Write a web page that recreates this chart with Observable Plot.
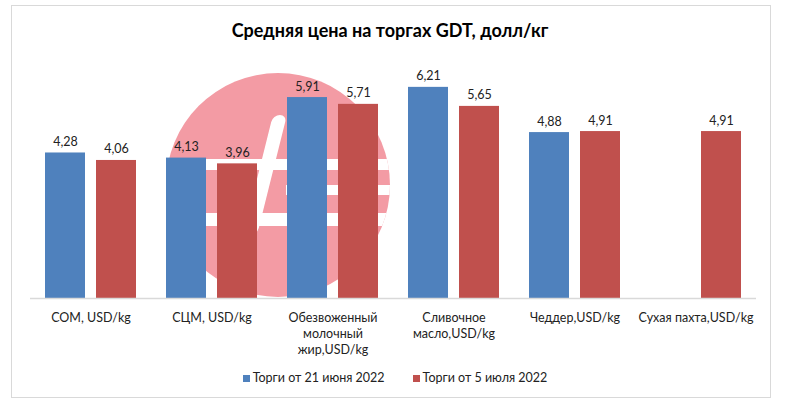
<!DOCTYPE html>
<html>
<head>
<meta charset="utf-8">
<script src="https://cdn.jsdelivr.net/npm/d3@7"></script>
<script src="https://cdn.jsdelivr.net/npm/@observablehq/plot@0.6"></script>
<style>
  body { margin: 0; background: #fff; font-family: Lato, "Open Sans", sans-serif; }
  #page { position: relative; width: 788px; height: 414px; overflow: hidden; }
  #frame { position: absolute; left: 11px; top: 5px; width: 758px; height: 391px; border: 1px solid #d9d9d9; }
  #title { position: absolute; left: 0; top: 19px; width: 780px; text-align: center;
           font: bold 18px/22px Lato, sans-serif; color: #000; }
  #legend { position: absolute; left: 0; top: 370px; width: 790px; text-align: center;
            font: 12.5px/16px Lato, sans-serif; color: #222; }
  #legend span.sw { display: inline-block; width: 7px; height: 7px; margin-right: 3px; vertical-align: 0px; }
  #legend span.item { margin: 0 14px; }
  #logo { position: absolute; left: 166px; top: 73px; width: 224px; height: 224px; border-radius: 50%;
          background: #f39ba4; overflow: hidden; }
  #logo div { position: absolute; background: #fff; }
  #chart { position: absolute; left: 0; top: 0; }
</style>
</head>
<body>
<div id="page">
  <div id="frame"></div>
  <div id="logo">
    <div style="left:92px; top:42px; width:14px; height:120px; transform: skewX(-14deg); border-radius: 7px;"></div>
    <div style="left:38px; top:86px; width:190px; height:11px;"></div>
    <div style="left:120px; top:112px; width:110px; height:10px;"></div>
    <div style="left:40px; top:140px; width:190px; height:13px;"></div>
  </div>
  <div id="chart"></div>
  <div id="title">Средняя цена на торгах GDT, долл/кг</div>
  <div id="legend"></div>
</div>
<script>
// Products and their axis labels (line breaks as shown under the bars)
const categories = ["СОМ", "СЦМ", "ОМЖ", "Масло", "Чеддер", "Пахта"];
const categoryLabels = [
  "СОМ, USD/kg",
  "СЦМ, USD/kg",
  "Обезвоженный\nмолочный\nжир,USD/kg",
  "Сливочное\nмасло,USD/kg",
  "Чеддер,USD/kg",
  "Сухая пахта,USD/kg"
];
// Auction rounds
const series = ["Торги от 21 июня 2022", "Торги от 5 июля 2022"];
const seriesColors = ["#4f81bd", "#c0504d"];
// Average prices, USD/kg (no June 21 price for buttermilk powder)
const june21 = [4.28, 4.13, 5.91, 6.21, 4.88, null];
const july5 = [4.06, 3.96, 5.71, 5.65, 4.91, 4.91];

const rows = [];
categories.forEach((c, i) => {
  if (june21[i] != null) rows.push({cat: c, series: series[0], value: june21[i]});
  if (july5[i] != null) rows.push({cat: c, series: series[1], value: july5[i]});
});

const fmt = v => v.toFixed(2).replace(".", ",");
const labelOf = new Map(categories.map((c, i) => [c, categoryLabels[i]]));

const chart = Plot.plot({
  width: 788,
  height: 372,
  marginTop: 60,
  marginBottom: 74,
  marginLeft: 28,
  marginRight: 31,
  style: {background: "transparent", fontFamily: "Lato, sans-serif", fontSize: "12.5px", color: "#222"},
  fx: {domain: categories, padding: 0, label: null, axis: null},
  x: {domain: series, paddingInner: 0.2115, paddingOuter: 0.273, axis: null},
  y: {domain: [0, 7], axis: null},
  color: {domain: series, range: seriesColors},
  marks: [
    Plot.barY(rows, {fx: "cat", x: "series", y: "value", fill: "series"}),
    Plot.text(rows, {fx: "cat", x: "series", y: "value", text: d => fmt(d.value),
                     lineAnchor: "bottom", dy: -7, fill: "#222", fontSize: 12.5}),
    Plot.ruleY([0], {stroke: "#d9d9d9", strokeWidth: 1.5}),
    Plot.axisFx({anchor: "bottom", tickSize: 0, tickPadding: 12, label: null,
                 tickFormat: c => labelOf.get(c), lineHeight: 1.28, fontSize: 12.5, fill: "#222"})
  ]
});
document.getElementById("chart").appendChild(chart);

// Legend below the plot
const legend = document.getElementById("legend");
series.forEach((s, i) => {
  const item = document.createElement("span");
  item.className = "item";
  const sw = document.createElement("span");
  sw.className = "sw";
  sw.style.background = seriesColors[i];
  item.appendChild(sw);
  item.appendChild(document.createTextNode(s));
  legend.appendChild(item);
});
</script>
</body>
</html>
